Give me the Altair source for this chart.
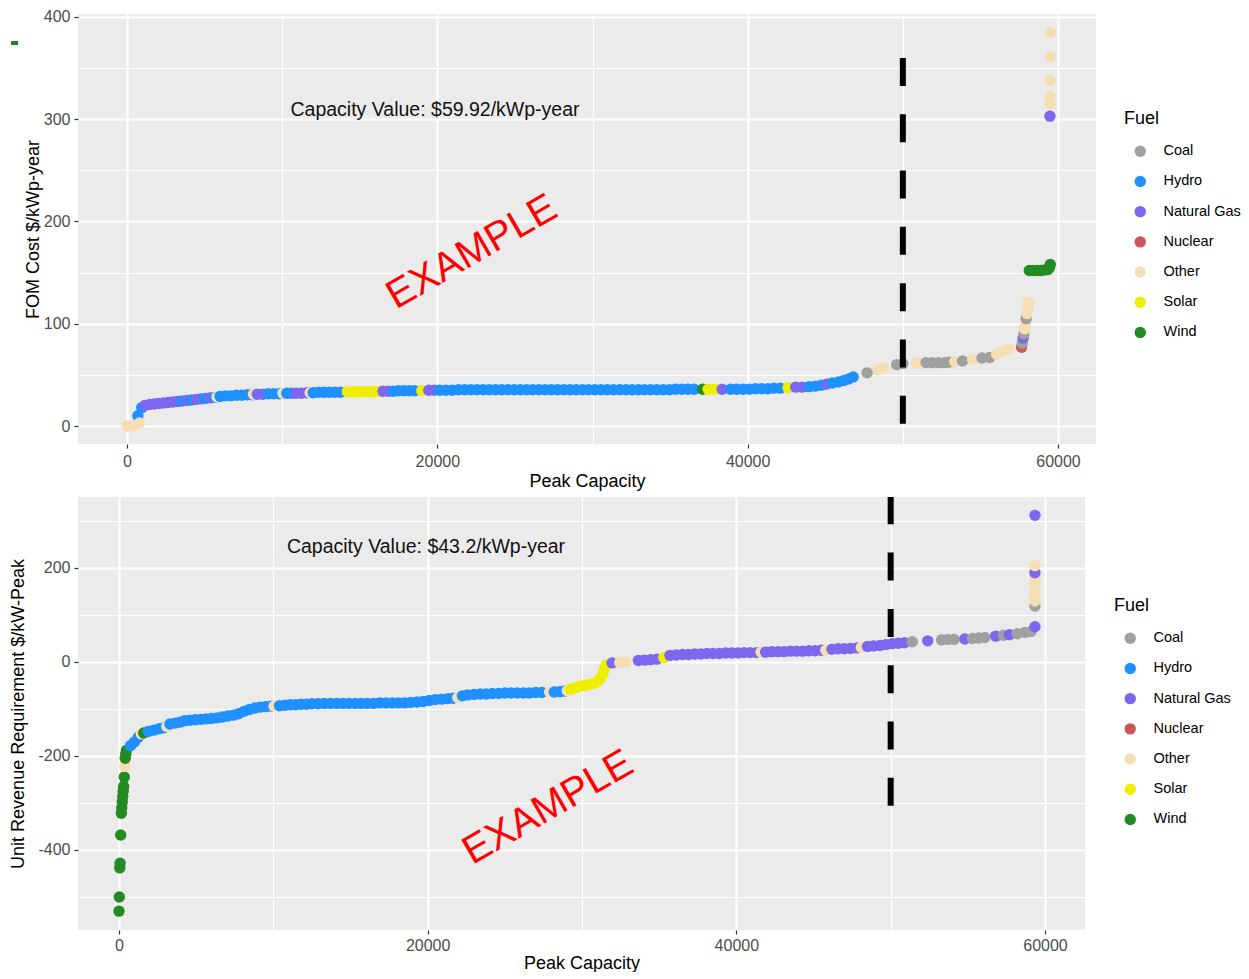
import altair as alt
import pandas as pd

FONT = "Liberation Sans"
FUELS = ["Coal", "Hydro", "Natural Gas", "Nuclear", "Other", "Solar", "Wind"]
FUEL_COLORS = ["#A0A0A0", "#1E90FF", "#7B68EE", "#CD5555", "#F5DEB3", "#EEEE00", "#228B22"]

# ---------------- top panel: FOM cost ----------------
top_other_cap = [0, 250, 500, 800, 5800, 8150, 10050, 11800, 48400, 48750, 50900, 53350, 54500,
                 56050, 56450, 56800, 57850, 57900, 58000, 58050, 58100,
                 59490, 59500, 59500, 59510, 59520]
top_other_cost = [0, 0, 1, 3, 28.5, 31, 32, 32.5, 55, 57, 61.5, 63, 65,
                  70, 73, 75, 95, 100, 110, 115, 121,
                  315, 322, 338, 361, 385]

top_hydro_cap = [700, 950, 3550, 4150, 5050, 5650,
                 6000, 6350, 6700, 7050, 7400, 7750, 8050,
                 9100, 9450, 9800, 10300, 10600,
                 12000, 12350, 12700, 13050, 13400, 13750,
                 17150, 17500, 17850, 18200, 18550,
                 20150, 20550, 20950, 21350, 21750, 22150, 22550, 22950, 23350, 23750,
                 24150, 24550, 24950, 25350, 25750, 26150, 26550, 26950, 27350, 27750,
                 28150, 28550, 28950, 29350, 29750, 30150, 30550, 30950, 31350, 31750,
                 32150, 32550, 32950, 33350, 33750, 34150, 34550, 34950, 35350, 35750,
                 36150, 36550,
                 38900, 39300, 39700, 40100, 40500, 40900, 41300, 41700, 42100,
                 43950, 44350, 44750, 45450, 45850, 46200, 46500, 46800]
top_hydro_cost = [10, 18, 24.5, 25.5, 27, 28,
                  29, 29.5, 29.5, 30, 30, 30.5, 30.5,
                  31.5, 31.5, 31.5, 32, 32,
                  32.5, 33, 33, 33, 33, 33,
                  34, 34.5, 34.5, 34.5, 34.5,
                  35, 35, 35, 35.5, 35.5, 35.5, 35.5, 35.5, 35.5, 35.5,
                  35.5, 35.5, 35.5, 35.5, 35.5, 35.5, 35.5, 35.5, 35.5, 35.5,
                  35.5, 35.5, 35.5, 35.5, 35.5, 35.5, 35.5, 35.5, 35.5, 35.5,
                  35.5, 35.5, 35.5, 35.5, 35.5, 35.5, 35.5, 35.5, 36, 36,
                  36, 36,
                  36, 36, 36, 36, 36.5, 36.5, 36.5, 37, 37,
                  38.5, 39, 40, 42, 43, 44.5, 46, 48]

top_gas_cap = [1150, 1450, 1750, 2050, 2350, 2650, 2950, 3250, 3850, 4450, 4750, 5350,
               8400, 8750, 10900, 11250, 11600, 16500, 16850, 19450, 19800,
               38350, 43100, 43500, 45100, 57750, 59480]
top_gas_cost = [20, 21, 21.5, 22, 22.5, 23, 23.5, 24, 25, 26, 26.5, 27.5,
                31, 31, 32, 32, 32.5, 34, 34, 35, 35,
                36, 38, 38, 41, 86, 303]

top_solar_cap = [14200, 14550, 14900, 15250, 15600, 15950, 16250, 19000, 37450, 37850, 42600]
top_solar_cost = [33.5, 33.5, 33.5, 33.5, 33.5, 33.5, 34, 34.5, 36, 36, 37.5]

top_coal_cap = [47700, 49600, 50000, 51500, 51900, 52300, 52700, 53000, 53850,
                55100, 55600, 57700, 57800, 57950]
top_coal_cost = [52, 60, 61, 62, 62, 62, 62, 62.5, 63.5, 66.5, 67, 81, 90, 105]

top_nuclear_cap = [57650]
top_nuclear_cost = [77]

top_wind_cap = [37100, 58150, 58400, 58650, 58900, 59150, 59350, 59450, 59500]
top_wind_cost = [36, 152, 152, 152, 152, 152.5, 153, 155, 158]

# ---------------- bottom panel: unit revenue requirement ----------------
bot_wind_cap = [0, 20, 50, 70, 110, 150, 180, 210, 240, 270, 300, 340, 400, 440, 480, 1600]
bot_wind_cost = [-530, -500, -438, -428, -368, -322, -310, -298, -286, -275, -265, -245,
                 -205, -196, -188, -151]

bot_other_cap = [370, 1450, 3100, 10050, 21950, 27900, 29050, 32450, 32850, 41600, 45800,
                 48100, 59350, 59350, 59350, 59350, 59350, 59350]
bot_other_cost = [-222, -153, -137, -94, -76, -64, -61, -1, 0, 21, 25,
                  31, 130, 143, 156, 169, 182, 205]

bot_hydro_cap = [750, 1000, 1250,
                 1900, 2250, 2600, 2900,
                 3300, 3650, 3950,
                 4250, 4600, 4950, 5300, 5650, 6000, 6350,
                 6700, 7050, 7400, 7750,
                 8100, 8450, 8800, 9150, 9500, 9850,
                 10400, 10750, 11100, 11450, 11800, 12150,
                 12500, 12900, 13300, 13700, 14100, 14500, 14900, 15300, 15700, 16100, 16500,
                 16900, 17300, 17700, 18100, 18500,
                 18900, 19300, 19700,
                 20100, 20500, 20900, 21300, 21650,
                 22250, 22600, 23000, 23400, 23800, 24200, 24600, 25000, 25400, 25800,
                 26200, 26600, 27000, 27400,
                 28200, 28550, 28850]
bot_hydro_cost = [-178, -170, -160,
                  -148, -145, -142, -140,
                  -132, -130, -128,
                  -125, -124, -123, -122, -121, -120, -119,
                  -117, -115, -113, -110,
                  -105, -101, -98, -96, -95, -94,
                  -93, -92, -91, -91, -90, -90,
                  -89, -89, -88, -88, -88, -88, -88, -88, -88, -88, -88,
                  -87, -87, -87, -87, -87,
                  -86, -85, -84,
                  -82, -80, -79, -78, -77,
                  -72, -70, -69, -68, -68, -67, -67, -66, -66, -66,
                  -66, -66, -65, -65,
                  -64, -63, -62]

bot_solar_cap = [29250, 29550, 29850, 30150, 30450, 30750, 31000, 31200, 31350, 31450, 31550, 35300]
bot_solar_cost = [-58, -55, -52, -50, -48, -46, -42, -35, -25, -15, -7, 9]

bot_gas_cap = [31950, 33650, 34050, 34450, 34850,
               35700, 36100, 36500, 36900, 37300, 37700, 38100, 38500, 38900, 39300,
               39700, 40100, 40500, 40900, 41300,
               41900, 42300, 42700, 43100, 43500, 43900, 44300, 44700, 45100, 45500,
               46200, 46600, 47000, 47400, 47800,
               48500, 48900, 49300, 49700, 50100, 50500, 50900,
               52400, 54800, 56800, 57700, 59350, 59350, 59350]
bot_gas_cost = [-2, 3, 4, 5, 6,
                14, 15, 16, 16, 17, 17, 18, 18, 18, 19,
                19, 19, 20, 20, 20,
                21, 22, 22, 22, 23, 23, 23, 24, 24, 25,
                27, 28, 28, 29, 30,
                33, 34, 35, 37, 39, 40, 41,
                45, 49, 55, 58, 75, 190, 312]

bot_coal_cap = [51400, 53300, 53700, 54100, 55300, 55700, 56100, 57300, 58200, 58700, 59100, 59350]
bot_coal_cost = [43, 47, 48, 48, 50, 51, 52, 57, 60, 63, 65, 119]

# annotations
top_note = ["Capacity Value: $59.92/kWp-year"]
top_note_cap = [19850]
top_note_cost = [309]
bot_note = ["Capacity Value: $43.2/kWp-year"]
bot_note_cap = [19890]
bot_note_cost = [245]
watermark = ["EXAMPLE"]
top_wm_cap, top_wm_cost = [22230], [170]
bot_wm_cap, bot_wm_cost = [27800], [-310]
threshold_cap = [50000]
top_thr_lo, top_thr_hi = [2.2], [360]
bot_thr_lo, bot_thr_hi = [-306], [351]

X_TICKS = [0, 10000, 20000, 30000, 40000, 50000, 60000]
TOP_Y_TICKS = [0, 50, 100, 150, 200, 250, 300, 350, 400]
BOT_Y_TICKS = [-500, -400, -300, -200, -100, 0, 100, 200, 300]


def frame(groups):
    rows = []
    for fuel, caps, costs in groups:
        for c, v in zip(caps, costs):
            rows.append({"cap": c, "cost": v, "fuel": fuel})
    df = pd.DataFrame(rows)
    return df.sort_values(["cap", "cost"], kind="stable").reset_index(drop=True)


top_df = frame([
    ("Other", top_other_cap, top_other_cost),
    ("Hydro", top_hydro_cap, top_hydro_cost),
    ("Natural Gas", top_gas_cap, top_gas_cost),
    ("Solar", top_solar_cap, top_solar_cost),
    ("Coal", top_coal_cap, top_coal_cost),
    ("Nuclear", top_nuclear_cap, top_nuclear_cost),
    ("Wind", top_wind_cap, top_wind_cost),
])
bot_df = frame([
    ("Wind", bot_wind_cap, bot_wind_cost),
    ("Other", bot_other_cap, bot_other_cost),
    ("Hydro", bot_hydro_cap, bot_hydro_cost),
    ("Solar", bot_solar_cap, bot_solar_cost),
    ("Natural Gas", bot_gas_cap, bot_gas_cost),
    ("Coal", bot_coal_cap, bot_coal_cost),
])


def cond(test, major, minor):
    return {"condition": {"test": test, "value": major}, "value": minor}


def panel(df, xdom, ydom, yticks, ymajor, width, height, ytitle, ytitle_x, xtitle_y,
          xlab_pad, legend_x, legend_y, note, note_cap, note_cost, wm_cap, wm_cost,
          thr_lo, thr_hi, deco=False):
    xs = alt.Scale(domain=xdom, nice=False, zero=False)
    ys = alt.Scale(domain=ydom, nice=False, zero=False)
    xtest = "datum.value % 20000 === 0"
    ytest = "datum.value % " + str(ymajor) + " === 0"
    xaxis = alt.Axis(
        values=X_TICKS, labelExpr=xtest + " ? '' + datum.value : ''",
        title="Peak Capacity", domain=False, grid=True, gridColor="#FFFFFF",
        gridWidth=cond(xtest, 2.2, 1.1), tickColor="#333333", tickSize=4, tickWidth=1.2,
        tickOpacity=cond(xtest, 1, 0), labelFont=FONT, labelFontSize=16, labelColor="#4D4D4D",
        labelPadding=xlab_pad, labelOverlap=False, titleFont=FONT, titleFontSize=18,
        titleFontWeight="normal", titleColor="#000000", titleX=width / 2, titleY=xtitle_y,
        titleBaseline="middle", titleAlign="center")
    yaxis = alt.Axis(
        values=yticks, labelExpr=ytest + " ? '' + datum.value : ''",
        title=ytitle, domain=False, grid=True, gridColor="#FFFFFF",
        gridWidth=cond(ytest, 2.2, 1.1), tickColor="#333333", tickSize=4, tickWidth=1.2,
        tickOpacity=cond(ytest, 1, 0), labelFont=FONT, labelFontSize=16, labelColor="#4D4D4D",
        labelPadding=4, labelOverlap=False, titleFont=FONT, titleFontSize=18,
        titleFontWeight="normal", titleColor="#000000", titleX=ytitle_x, titleY=height / 2,
        titleAngle=270, titleBaseline="middle", titleAlign="center")
    legend = alt.Legend(
        title="Fuel", orient="none", legendX=legend_x, legendY=legend_y, padding=0,
        titleFont=FONT, titleFontSize=18, titleFontWeight="normal", titleColor="#000000",
        titlePadding=16, labelFont=FONT, labelFontSize=14.5, labelColor="#000000",
        symbolType="circle", symbolSize=130, symbolStrokeWidth=0, symbolOffset=9,
        labelOffset=16, rowPadding=15.2)

    X = alt.X("cap:Q", scale=xs, axis=xaxis)
    Y = alt.Y("cost:Q", scale=ys, axis=yaxis)
    points = alt.Chart(df).mark_circle(size=130, opacity=1).encode(
        x=X, y=Y,
        color=alt.Color("fuel:N", scale=alt.Scale(domain=FUELS, range=FUEL_COLORS), legend=legend),
    )
    thr = alt.Chart(pd.DataFrame({"cap": threshold_cap, "cost": thr_lo, "hi": thr_hi})).mark_rule(
        color="#000000", strokeWidth=6, strokeDash=[28, 28.3]).encode(x=X, y=Y, y2="hi:Q")
    notes = alt.Chart(pd.DataFrame({"cap": note_cap, "cost": note_cost, "label": note})).mark_text(
        font=FONT, fontSize=19.5, color="#111111", align="center", baseline="middle").encode(
        x=X, y=Y, text="label:N")
    wm = alt.Chart(pd.DataFrame({"cap": wm_cap, "cost": wm_cost, "label": watermark})).mark_text(
        font=FONT, fontSize=40, color="#FF0000", angle=330, align="center", baseline="middle").encode(
        x=X, y=Y, text="label:N")
    layers = [points, thr, notes, wm]
    if deco:
        layers.append(alt.Chart(pd.DataFrame({"k": [0]})).mark_rule(
            color="#1A8A1A", strokeWidth=4).encode(x=alt.value(-67), x2=alt.value(-60), y=alt.value(29)))
    return alt.layer(*layers).properties(width=width, height=height)


top = panel(top_df, [-3158, 62448], [-17.6, 402.9], TOP_Y_TICKS, 100, 1018, 430,
            "FOM Cost $/kWp-year", -45, 37, 5, 1046, 96,
            top_note, top_note_cap, top_note_cost, top_wm_cap, top_wm_cost,
            top_thr_lo, top_thr_hi, deco=True)
bottom = panel(bot_df, [-2657, 62592], [-570.2, 351], BOT_Y_TICKS, 200, 1007, 433,
               "Unit Revenue Requirement $/kW-Peak", -60, 33, 3, 1036, 100,
               bot_note, bot_note_cap, bot_note_cost, bot_wm_cap, bot_wm_cost,
               bot_thr_lo, bot_thr_hi)

chart = alt.vconcat(top, bottom, spacing=4).resolve_scale(color="independent").properties(
    padding={"left": 0, "top": 0, "right": 0, "bottom": 0}
).configure(background="#FFFFFF").configure_view(fill="#EBEBEB", stroke=None)

chart.save("out.html", embed_options={"renderer": "svg", "actions": False})
